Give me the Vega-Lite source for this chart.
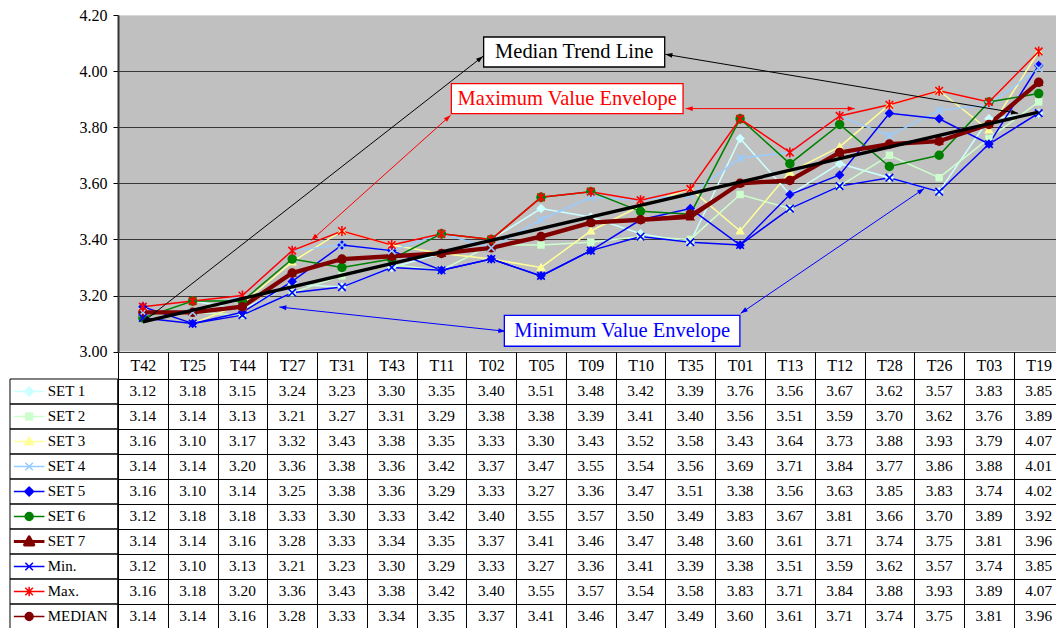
{
  "$schema": "https://vega.github.io/schema/vega-lite/v6.json",
  "background": "white",
  "padding": {"left": 9, "top": 7, "right": -6.3, "bottom": 0},
  "config": {"font": "Liberation Serif", "view": {"stroke": null}},
  "columns": 2,
  "align": "each",
  "bounds": "flush",
  "spacing": {"row": 27, "column": 0},
  "resolve": {"scale": {"shape": "independent", "fill": "independent", "stroke": "independent", "strokeWidth": "independent", "color": "independent"}},
  "datasets": {
    "scores": [
      {"series":"SET 1","test":"T42","value":3.12},{"series":"SET 1","test":"T25","value":3.18},{"series":"SET 1","test":"T44","value":3.15},{"series":"SET 1","test":"T27","value":3.24},{"series":"SET 1","test":"T31","value":3.23},{"series":"SET 1","test":"T43","value":3.30},{"series":"SET 1","test":"T11","value":3.35},{"series":"SET 1","test":"T02","value":3.40},{"series":"SET 1","test":"T05","value":3.51},{"series":"SET 1","test":"T09","value":3.48},{"series":"SET 1","test":"T10","value":3.42},{"series":"SET 1","test":"T35","value":3.39},{"series":"SET 1","test":"T01","value":3.76},{"series":"SET 1","test":"T13","value":3.56},{"series":"SET 1","test":"T12","value":3.67},{"series":"SET 1","test":"T28","value":3.62},{"series":"SET 1","test":"T26","value":3.57},{"series":"SET 1","test":"T03","value":3.83},{"series":"SET 1","test":"T19","value":3.85},
      {"series":"SET 2","test":"T42","value":3.14},{"series":"SET 2","test":"T25","value":3.14},{"series":"SET 2","test":"T44","value":3.13},{"series":"SET 2","test":"T27","value":3.21},{"series":"SET 2","test":"T31","value":3.27},{"series":"SET 2","test":"T43","value":3.31},{"series":"SET 2","test":"T11","value":3.29},{"series":"SET 2","test":"T02","value":3.38},{"series":"SET 2","test":"T05","value":3.38},{"series":"SET 2","test":"T09","value":3.39},{"series":"SET 2","test":"T10","value":3.41},{"series":"SET 2","test":"T35","value":3.40},{"series":"SET 2","test":"T01","value":3.56},{"series":"SET 2","test":"T13","value":3.51},{"series":"SET 2","test":"T12","value":3.59},{"series":"SET 2","test":"T28","value":3.70},{"series":"SET 2","test":"T26","value":3.62},{"series":"SET 2","test":"T03","value":3.76},{"series":"SET 2","test":"T19","value":3.89},
      {"series":"SET 3","test":"T42","value":3.16},{"series":"SET 3","test":"T25","value":3.10},{"series":"SET 3","test":"T44","value":3.17},{"series":"SET 3","test":"T27","value":3.32},{"series":"SET 3","test":"T31","value":3.43},{"series":"SET 3","test":"T43","value":3.38},{"series":"SET 3","test":"T11","value":3.35},{"series":"SET 3","test":"T02","value":3.33},{"series":"SET 3","test":"T05","value":3.30},{"series":"SET 3","test":"T09","value":3.43},{"series":"SET 3","test":"T10","value":3.52},{"series":"SET 3","test":"T35","value":3.58},{"series":"SET 3","test":"T01","value":3.43},{"series":"SET 3","test":"T13","value":3.64},{"series":"SET 3","test":"T12","value":3.73},{"series":"SET 3","test":"T28","value":3.88},{"series":"SET 3","test":"T26","value":3.93},{"series":"SET 3","test":"T03","value":3.79},{"series":"SET 3","test":"T19","value":4.07},
      {"series":"SET 4","test":"T42","value":3.14},{"series":"SET 4","test":"T25","value":3.14},{"series":"SET 4","test":"T44","value":3.20},{"series":"SET 4","test":"T27","value":3.36},{"series":"SET 4","test":"T31","value":3.38},{"series":"SET 4","test":"T43","value":3.36},{"series":"SET 4","test":"T11","value":3.42},{"series":"SET 4","test":"T02","value":3.37},{"series":"SET 4","test":"T05","value":3.47},{"series":"SET 4","test":"T09","value":3.55},{"series":"SET 4","test":"T10","value":3.54},{"series":"SET 4","test":"T35","value":3.56},{"series":"SET 4","test":"T01","value":3.69},{"series":"SET 4","test":"T13","value":3.71},{"series":"SET 4","test":"T12","value":3.84},{"series":"SET 4","test":"T28","value":3.77},{"series":"SET 4","test":"T26","value":3.86},{"series":"SET 4","test":"T03","value":3.88},{"series":"SET 4","test":"T19","value":4.01},
      {"series":"SET 5","test":"T42","value":3.16},{"series":"SET 5","test":"T25","value":3.10},{"series":"SET 5","test":"T44","value":3.14},{"series":"SET 5","test":"T27","value":3.25},{"series":"SET 5","test":"T31","value":3.38},{"series":"SET 5","test":"T43","value":3.36},{"series":"SET 5","test":"T11","value":3.29},{"series":"SET 5","test":"T02","value":3.33},{"series":"SET 5","test":"T05","value":3.27},{"series":"SET 5","test":"T09","value":3.36},{"series":"SET 5","test":"T10","value":3.47},{"series":"SET 5","test":"T35","value":3.51},{"series":"SET 5","test":"T01","value":3.38},{"series":"SET 5","test":"T13","value":3.56},{"series":"SET 5","test":"T12","value":3.63},{"series":"SET 5","test":"T28","value":3.85},{"series":"SET 5","test":"T26","value":3.83},{"series":"SET 5","test":"T03","value":3.74},{"series":"SET 5","test":"T19","value":4.02},
      {"series":"SET 6","test":"T42","value":3.12},{"series":"SET 6","test":"T25","value":3.18},{"series":"SET 6","test":"T44","value":3.18},{"series":"SET 6","test":"T27","value":3.33},{"series":"SET 6","test":"T31","value":3.30},{"series":"SET 6","test":"T43","value":3.33},{"series":"SET 6","test":"T11","value":3.42},{"series":"SET 6","test":"T02","value":3.40},{"series":"SET 6","test":"T05","value":3.55},{"series":"SET 6","test":"T09","value":3.57},{"series":"SET 6","test":"T10","value":3.50},{"series":"SET 6","test":"T35","value":3.49},{"series":"SET 6","test":"T01","value":3.83},{"series":"SET 6","test":"T13","value":3.67},{"series":"SET 6","test":"T12","value":3.81},{"series":"SET 6","test":"T28","value":3.66},{"series":"SET 6","test":"T26","value":3.70},{"series":"SET 6","test":"T03","value":3.89},{"series":"SET 6","test":"T19","value":3.92},
      {"series":"SET 7","test":"T42","value":3.14},{"series":"SET 7","test":"T25","value":3.14},{"series":"SET 7","test":"T44","value":3.16},{"series":"SET 7","test":"T27","value":3.28},{"series":"SET 7","test":"T31","value":3.33},{"series":"SET 7","test":"T43","value":3.34},{"series":"SET 7","test":"T11","value":3.35},{"series":"SET 7","test":"T02","value":3.37},{"series":"SET 7","test":"T05","value":3.41},{"series":"SET 7","test":"T09","value":3.46},{"series":"SET 7","test":"T10","value":3.47},{"series":"SET 7","test":"T35","value":3.48},{"series":"SET 7","test":"T01","value":3.60},{"series":"SET 7","test":"T13","value":3.61},{"series":"SET 7","test":"T12","value":3.71},{"series":"SET 7","test":"T28","value":3.74},{"series":"SET 7","test":"T26","value":3.75},{"series":"SET 7","test":"T03","value":3.81},{"series":"SET 7","test":"T19","value":3.96},
      {"series":"Min.","test":"T42","value":3.12},{"series":"Min.","test":"T25","value":3.10},{"series":"Min.","test":"T44","value":3.13},{"series":"Min.","test":"T27","value":3.21},{"series":"Min.","test":"T31","value":3.23},{"series":"Min.","test":"T43","value":3.30},{"series":"Min.","test":"T11","value":3.29},{"series":"Min.","test":"T02","value":3.33},{"series":"Min.","test":"T05","value":3.27},{"series":"Min.","test":"T09","value":3.36},{"series":"Min.","test":"T10","value":3.41},{"series":"Min.","test":"T35","value":3.39},{"series":"Min.","test":"T01","value":3.38},{"series":"Min.","test":"T13","value":3.51},{"series":"Min.","test":"T12","value":3.59},{"series":"Min.","test":"T28","value":3.62},{"series":"Min.","test":"T26","value":3.57},{"series":"Min.","test":"T03","value":3.74},{"series":"Min.","test":"T19","value":3.85},
      {"series":"Max.","test":"T42","value":3.16},{"series":"Max.","test":"T25","value":3.18},{"series":"Max.","test":"T44","value":3.20},{"series":"Max.","test":"T27","value":3.36},{"series":"Max.","test":"T31","value":3.43},{"series":"Max.","test":"T43","value":3.38},{"series":"Max.","test":"T11","value":3.42},{"series":"Max.","test":"T02","value":3.40},{"series":"Max.","test":"T05","value":3.55},{"series":"Max.","test":"T09","value":3.57},{"series":"Max.","test":"T10","value":3.54},{"series":"Max.","test":"T35","value":3.58},{"series":"Max.","test":"T01","value":3.83},{"series":"Max.","test":"T13","value":3.71},{"series":"Max.","test":"T12","value":3.84},{"series":"Max.","test":"T28","value":3.88},{"series":"Max.","test":"T26","value":3.93},{"series":"Max.","test":"T03","value":3.89},{"series":"Max.","test":"T19","value":4.07},
      {"series":"MEDIAN","test":"T42","value":3.14},{"series":"MEDIAN","test":"T25","value":3.14},{"series":"MEDIAN","test":"T44","value":3.16},{"series":"MEDIAN","test":"T27","value":3.28},{"series":"MEDIAN","test":"T31","value":3.33},{"series":"MEDIAN","test":"T43","value":3.34},{"series":"MEDIAN","test":"T11","value":3.35},{"series":"MEDIAN","test":"T02","value":3.37},{"series":"MEDIAN","test":"T05","value":3.41},{"series":"MEDIAN","test":"T09","value":3.46},{"series":"MEDIAN","test":"T10","value":3.47},{"series":"MEDIAN","test":"T35","value":3.49},{"series":"MEDIAN","test":"T01","value":3.60},{"series":"MEDIAN","test":"T13","value":3.61},{"series":"MEDIAN","test":"T12","value":3.71},{"series":"MEDIAN","test":"T28","value":3.74},{"series":"MEDIAN","test":"T26","value":3.75},{"series":"MEDIAN","test":"T03","value":3.81},{"series":"MEDIAN","test":"T19","value":3.96}
    ],
    "trend": [
      {"series":"Trend","test":"T42","value":3.106},
      {"series":"Trend","test":"T19","value":3.854}
    ],
    "boxes": [
      {"note":"trend","text":"Median Trend Line","x":7.347,"x2":10.985,"y":4.1216,"y2":4.0146},
      {"note":"max","text":"Maximum Value Envelope","x":6.698,"x2":11.354,"y":3.9554,"y2":3.8485},
      {"note":"min","text":"Minimum Value Envelope","x":7.763,"x2":12.496,"y":3.1294,"y2":3.019}
    ],
    "arrows": [
      {"note":"trend","x":0.502,"y":3.1055,"x2":7.335,"y2":4.0528},
      {"note":"trend","x":18.087,"y":3.8496,"x2":10.999,"y2":4.0599},
      {"note":"max","x":3.885,"y":3.3968,"x2":6.684,"y2":3.8424},
      {"note":"max","x":14.803,"y":3.8663,"x2":11.407,"y2":3.8663},
      {"note":"min","x":3.242,"y":3.159,"x2":7.783,"y2":3.0724},
      {"note":"min","x":16.198,"y":3.5811,"x2":12.512,"y2":3.1365}
    ]
  },
  "concat": [
    {
      "width": 107.7,
      "height": 336.6,
      "data": {"values": []},
      "mark": {"type": "text", "text": ""},
      "encoding": {}
    },
    {
      "width": 945.6,
      "height": 336.6,
      "view": {"fill": "#C0C0C0", "stroke": null},
      "resolve": {"scale": {"x": "independent"}, "axis": {"x": "independent"}},
      "layer": [
        {
          "data": {"name": "scores"},
          "encoding": {
            "x": {"field": "test", "type": "nominal", "axis": null,
                  "scale": {"type": "point", "padding": 0.5, "domain": ["T42","T25","T44","T27","T31","T43","T11","T02","T05","T09","T10","T35","T01","T13","T12","T28","T26","T03","T19"]}},
            "y": {"field": "value", "type": "quantitative",
                  "scale": {"domain": [3, 4.2], "zero": false, "nice": false},
                  "axis": {"title": null, "values": [3, 3.2, 3.4, 3.6, 3.8, 4, 4.2], "format": ".2f",
                           "labelFontSize": 16, "labelColor": "black", "labelPadding": 6,
                           "tickSize": 5, "tickColor": "black", "domainColor": "#333333", "domainWidth": 2,
                           "grid": true, "gridWidth": 1.2,
                           "gridColor": {"condition": {"test": "datum.value > 4.19", "value": "#d8d8d8"}, "value": "#383838"}}},
            "color": {"field": "series", "type": "nominal", "legend": null,
                      "scale": {"domain": ["SET 1","SET 2","SET 3","SET 4","SET 5","SET 6","SET 7","Min.","Max.","MEDIAN"],
                                "range": ["#CCFFFF","#CCFFCC","#FFFF99","#99CCFF","#0000FF","#008000","#800000","#0000FF","#FF0000","#800000"]}}
          },
          "layer": [
            {
              "mark": {"type": "line"},
              "encoding": {
                "strokeWidth": {"field": "series", "type": "nominal", "legend": null,
                                "scale": {"type": "ordinal", "domain": ["SET 1","SET 2","SET 3","SET 4","SET 5","SET 6","SET 7","Min.","Max.","MEDIAN"],
                                          "range": [1.5, 1.5, 1.5, 1.5, 1.5, 1.5, 4.3, 1.5, 1.5, 1.5]}}
              }
            },
            {
              "transform": [{"filter": "indexof(['SET 4','Min.','Max.'], datum.series) < 0"}],
              "mark": {"type": "point", "filled": true, "size": 90, "opacity": 1},
              "encoding": {
                "shape": {"field": "series", "type": "nominal", "legend": null,
                          "scale": {"domain": ["SET 1","SET 2","SET 3","SET 4","SET 5","SET 6","SET 7","Min.","Max.","MEDIAN"],
                                    "range": ["M0,-1L1,0L0,1L-1,0Z","M-0.78,-0.78H0.78V0.78H-0.78Z","M0,-1L1,0.75H-1Z","M-0.8,-0.8L0.8,0.8M-0.8,0.8L0.8,-0.8","M0,-1L1,0L0,1L-1,0Z","circle","M0,-1L1,0.75H-1Z","M-0.8,-0.8L0.8,0.8M-0.8,0.8L0.8,-0.8","M-0.8,-0.8L0.8,0.8M-0.8,0.8L0.8,-0.8M0,-1.05V1.05","circle"]}}
              }
            },
            {
              "transform": [{"filter": {"field": "series", "oneOf": ["SET 4", "Min.", "Max."]}}],
              "mark": {"type": "point", "filled": false, "size": 90, "strokeWidth": 1.6, "opacity": 1},
              "encoding": {
                "shape": {"field": "series", "type": "nominal", "legend": null}
              }
            },
            {
              "data": {"name": "trend"},
              "mark": {"type": "line", "strokeWidth": 3.4},
              "encoding": {"color": {"value": "black"}}
            }
          ]
        },
        {
          "layer": [
            {
              "data": {"name": "arrows"},
              "mark": {"type": "rule", "strokeWidth": 1},
              "encoding": {
                "x": {"field": "x", "type": "quantitative", "axis": null, "scale": {"domain": [0, 19], "nice": false, "zero": false}},
                "x2": {"field": "x2"},
                "y": {"field": "y", "type": "quantitative", "scale": {"domain": [3, 4.2], "zero": false, "nice": false}},
                "y2": {"field": "y2"},
                "stroke": {"field": "note", "type": "nominal", "legend": null,
                           "scale": {"domain": ["trend", "max", "min"], "range": ["black", "#FF0000", "#0000FF"]}}
              }
            },
            {
              "data": {"name": "arrows"},
              "transform": [{"calculate": "atan2((datum.x2 - datum.x) * 49.77, (datum.y2 - datum.y) * 280.5) * 180 / PI", "as": "a2"}],
              "mark": {"type": "point", "filled": true, "shape": "M0,0L0.55,1.6L-0.55,1.6Z", "size": 77, "opacity": 1},
              "encoding": {
                "x": {"field": "x2", "type": "quantitative"},
                "y": {"field": "y2", "type": "quantitative"},
                "angle": {"field": "a2", "type": "quantitative", "scale": null},
                "fill": {"field": "note", "type": "nominal", "legend": null,
                         "scale": {"domain": ["trend", "max", "min"], "range": ["black", "#FF0000", "#0000FF"]}}
              }
            },
            {
              "data": {"name": "arrows"},
              "transform": [{"calculate": "atan2((datum.x - datum.x2) * 49.77, (datum.y - datum.y2) * 280.5) * 180 / PI", "as": "a1"}],
              "mark": {"type": "point", "filled": true, "shape": "M0,0L0.55,1.6L-0.55,1.6Z", "size": 77, "opacity": 1},
              "encoding": {
                "x": {"field": "x", "type": "quantitative"},
                "y": {"field": "y", "type": "quantitative"},
                "angle": {"field": "a1", "type": "quantitative", "scale": null},
                "fill": {"field": "note", "type": "nominal", "legend": null}
              }
            },
            {
              "data": {"name": "boxes"},
              "mark": {"type": "rect", "fill": "white", "strokeWidth": 1.3},
              "encoding": {
                "x": {"field": "x", "type": "quantitative"},
                "x2": {"field": "x2"},
                "y": {"field": "y", "type": "quantitative"},
                "y2": {"field": "y2"},
                "stroke": {"field": "note", "type": "nominal", "legend": null}
              }
            },
            {
              "data": {"name": "boxes"},
              "transform": [
                {"calculate": "(datum.x + datum.x2) / 2", "as": "tx"},
                {"calculate": "(datum.y + datum.y2) / 2", "as": "ty"}
              ],
              "mark": {"type": "text", "fontSize": 20.5, "align": "center", "baseline": "middle"},
              "encoding": {
                "x": {"field": "tx", "type": "quantitative"},
                "y": {"field": "ty", "type": "quantitative"},
                "text": {"field": "text"},
                "fill": {"field": "note", "type": "nominal", "legend": null}
              }
            }
          ]
        }
      ]
    },
    {
      "width": 107.7,
      "height": 250,
      "data": {"name": "scores"},
      "transform": [{"aggregate": [{"op": "count", "as": "n"}], "groupby": ["series"]}],
      "encoding": {
        "y": {"field": "series", "type": "nominal", "axis": null,
              "scale": {"domain": ["SET 1","SET 2","SET 3","SET 4","SET 5","SET 6","SET 7","Min.","Max.","MEDIAN"], "paddingInner": 0, "paddingOuter": 0}}
      },
      "layer": [
        {
          "mark": {"type": "rect", "fill": "transparent", "stroke": "black", "strokeWidth": 1}
        },
        {
          "mark": {"type": "point", "size": 400, "opacity": 1, "filled": false, "strokeJoin": "round"},
          "encoding": {
            "shape": {"field": "series", "type": "nominal", "legend": null,
                      "scale": {"domain": ["SET 1","SET 2","SET 3","SET 4","SET 5","SET 6","SET 7","Min.","Max.","MEDIAN"],
                                "range": ["M-5,0H-1.94M-3.47,-0.45L-3.02,0L-3.47,0.45L-3.92,0Z",
                                          "M-5,0H-1.94M-3.82,-0.35H-3.12V0.35H-3.82Z",
                                          "M-5,0H-1.94M-3.47,-0.45L-3.02,0.33H-3.92Z",
                                          "M-5,0H-1.94M-3.85,-0.38L-3.09,0.38M-3.85,0.38L-3.09,-0.38",
                                          "M-5,0H-1.94M-3.47,-0.45L-3.02,0L-3.47,0.45L-3.92,0Z",
                                          "M-5,0H-1.94M-3.07,0A0.4,0.4,0,1,1,-3.87,0A0.4,0.4,0,1,1,-3.07,0Z",
                                          "M-5,0H-1.94M-3.47,-0.45L-3.02,0.33H-3.92Z",
                                          "M-5,0H-1.94M-3.85,-0.38L-3.09,0.38M-3.85,0.38L-3.09,-0.38",
                                          "M-5,0H-1.94M-3.85,-0.38L-3.09,0.38M-3.85,0.38L-3.09,-0.38M-3.47,-0.48V0.48",
                                          "M-5,0H-1.94M-3.07,0A0.4,0.4,0,1,1,-3.87,0A0.4,0.4,0,1,1,-3.07,0Z"]}},
            "stroke": {"field": "series", "type": "nominal", "legend": null,
                       "scale": {"domain": ["SET 1","SET 2","SET 3","SET 4","SET 5","SET 6","SET 7","Min.","Max.","MEDIAN"],
                                 "range": ["#CCFFFF","#CCFFCC","#FFFF99","#99CCFF","#0000FF","#008000","#800000","#0000FF","#FF0000","#800000"]}},
            "fill": {"field": "series", "type": "nominal", "legend": null,
                     "scale": {"domain": ["SET 1","SET 2","SET 3","SET 4","SET 5","SET 6","SET 7","Min.","Max.","MEDIAN"],
                               "range": ["#CCFFFF","#CCFFCC","#FFFF99","#99CCFF","#0000FF","#008000","#800000","#0000FF","#FF0000","#800000"]}},
            "strokeWidth": {"field": "series", "type": "nominal", "legend": null,
                            "scale": {"type": "ordinal", "domain": ["SET 1","SET 2","SET 3","SET 4","SET 5","SET 6","SET 7","Min.","Max.","MEDIAN"],
                                      "range": [1.5, 1.5, 1.5, 1.5, 1.5, 1.5, 3.2, 1.5, 1.5, 1.5]}}
          }
        },
        {
          "mark": {"type": "text", "fontSize": 15, "align": "left", "baseline": "middle", "dx": -16.15, "color": "black"},
          "encoding": {"text": {"field": "series"}}
        }
      ]
    },
    {
      "width": 945.6,
      "height": 250,
      "data": {"name": "scores"},
      "mark": {"type": "text", "fontSize": 15.3, "color": "black", "baseline": "middle"},
      "encoding": {
        "x": {"field": "test", "type": "nominal",
              "scale": {"domain": ["T42","T25","T44","T27","T31","T43","T11","T02","T05","T09","T10","T35","T01","T13","T12","T28","T26","T03","T19"], "paddingInner": 0, "paddingOuter": 0},
              "axis": {"orient": "top", "title": null, "tickBand": "extent", "tickSize": 27, "tickColor": "black",
                       "domainColor": "black", "labelFontSize": 16, "labelColor": "black", "labelAngle": 0,
                       "labelBaseline": "middle", "labelPadding": -13.5,
                       "grid": true, "gridColor": "black", "gridOpacity": 1}},
        "y": {"field": "series", "type": "nominal",
              "scale": {"domain": ["SET 1","SET 2","SET 3","SET 4","SET 5","SET 6","SET 7","Min.","Max.","MEDIAN"], "paddingInner": 0, "paddingOuter": 0},
              "axis": {"title": null, "labels": false, "ticks": false, "domain": false, "grid": true, "tickBand": "extent", "gridColor": "black", "gridOpacity": 1}},
        "text": {"field": "value", "type": "quantitative", "format": ".2f"}
      }
    }
  ]
}
